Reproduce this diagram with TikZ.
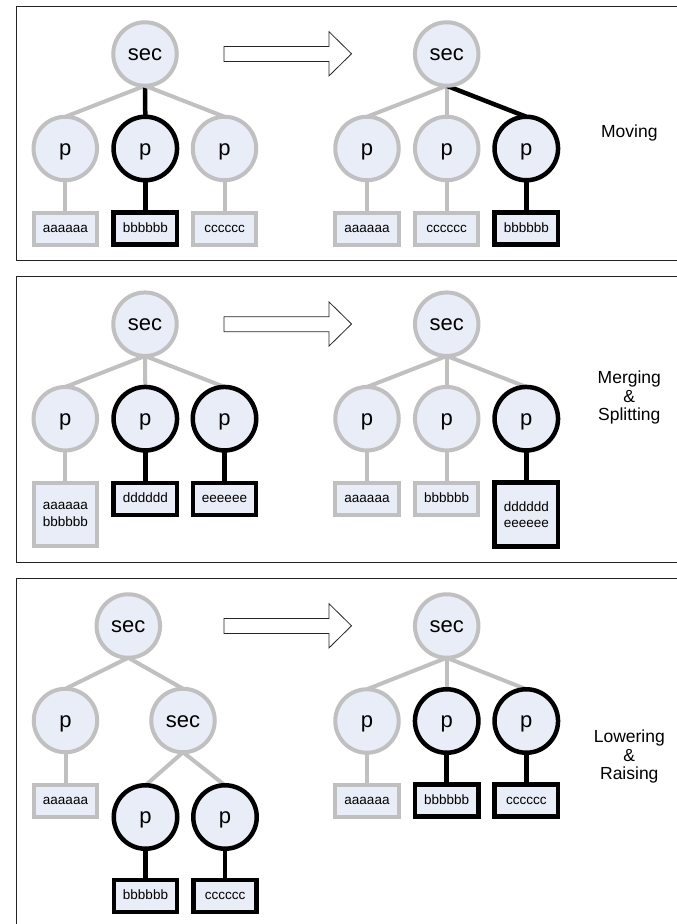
\documentclass[tikz,border=0pt]{standalone}
\usepackage{fontspec}
\setmainfont{Liberation Sans}
\usetikzlibrary{backgrounds}

\definecolor{nodefill}{RGB}{232,237,247}
\definecolor{dimline}{RGB}{192,192,192}
\definecolor{frameline}{RGB}{35,35,35}

\tikzset{
  pnode/.style={circle, draw=dimline, line width=4pt, fill=nodefill,
    minimum size=63.5pt, inner sep=0pt, outer sep=0pt,
    font=\fontsize{22}{24}\selectfont, text height=15.2pt, text depth=2.2pt},
  hot/.style={draw=black, line width=4.5pt},
  leafbox/.style={rectangle, draw=dimline, line width=4pt, fill=nodefill,
    minimum width=63.3pt, minimum height=32pt, inner sep=0pt, outer sep=0pt,
    font=\fontsize{13.5}{16.3}\selectfont, text height=9.5pt, text depth=2.7pt},
  tallbox/.style={minimum height=63.7pt, align=center, text height=, text depth=},
  link/.style={draw=dimline, line width=4pt},
  hotlink/.style={draw=black, line width=4.5pt},
  panelframe/.style={draw=frameline, line width=1pt},
  sidetext/.style={font=\fontsize{17.5}{18.5}\selectfont, align=center},
  arrowline/.style={draw=black!85, line width=0.8pt, line join=miter, fill=white},
  bigarrow/.pic={
    \path[arrowline] (224,46.5) -- (329,46.5) -- (329,31.7) -- (351.5,53.8)
      -- (329,75.9) -- (329,61.5) -- (224,61.5) -- cycle;
  },
}

\begin{document}
\begin{tikzpicture}[x=1pt, y=-1pt]
\clip (0,0) rectangle (677,924);
\useasboundingbox (0,0) rectangle (677,924);

% ---------------- Moving ----------------
\draw[panelframe] (16.7,6.3) rectangle (700,260.5);
\pic at (0,0) {bigarrow};
\node[pnode] (ma) at (145,54) {sec};
\node[pnode] (ma1) at (65.3,148.5) {p};
\node[pnode,hot] (ma2) at (145.3,148.5) {p};
\node[pnode] (ma3) at (224.5,148.5) {p};
\node[leafbox] (mal1) at (65.3,228.7) {aaaaaa};
\node[leafbox,hot] (mal2) at (145.3,228.7) {bbbbbb};
\node[leafbox] (mal3) at (224.5,228.7) {cccccc};

\node[pnode] (mb) at (446.7,54) {sec};
\node[pnode] (mb1) at (367,148.5) {p};
\node[pnode] (mb2) at (446.7,148.5) {p};
\node[pnode,hot] (mb3) at (526.3,148.5) {p};
\node[leafbox] (mbl1) at (367,228.7) {aaaaaa};
\node[leafbox] (mbl2) at (446.7,228.7) {cccccc};
\node[leafbox,hot] (mbl3) at (526.3,228.7) {bbbbbb};

\node[sidetext] (mlabel) at (629.3,133.3) {Moving};

\begin{scope}[on background layer]
  \draw[link] (ma.south) -- (ma1.north);
  \draw[hotlink] (ma.south) -- (ma2.north);
  \draw[link] (ma.south) -- (ma3.north);
  \draw[link] (ma1.south) -- (mal1.north);
  \draw[hotlink] (ma2.south) -- (mal2.north);
  \draw[link] (ma3.south) -- (mal3.north);
  \draw[link] (mb.south) -- (mb1.north);
  \draw[link] (mb.south) -- (mb2.north);
  \draw[hotlink] (mb.south) -- (mb3.north);
  \draw[link] (mb1.south) -- (mbl1.north);
  \draw[link] (mb2.south) -- (mbl2.north);
  \draw[hotlink] (mb3.south) -- (mbl3.north);
\end{scope}

% ---------------- Merging & Splitting ----------------
\begin{scope}[shift={(0,270.2)}]
\draw[panelframe] (16.7,6.1) rectangle (700,292.3);
\pic at (0,0) {bigarrow};
\node[pnode] (sa) at (145,54) {sec};
\node[pnode] (sa1) at (65.3,148.5) {p};
\node[pnode,hot] (sa2) at (145.3,148.5) {p};
\node[pnode,hot] (sa3) at (224.5,148.5) {p};
\node[leafbox,tallbox] (sal1) at (65.3,244.3) {aaaaaa\\bbbbbb};
\node[leafbox,hot] (sal2) at (145.3,228.7) {dddddd};
\node[leafbox,hot] (sal3) at (224.5,228.7) {eeeeee};

\node[pnode] (sb) at (446.7,54) {sec};
\node[pnode] (sb1) at (367,148.5) {p};
\node[pnode] (sb2) at (446.7,148.5) {p};
\node[pnode,hot] (sb3) at (526.3,148.5) {p};
\node[leafbox] (sbl1) at (367,228.7) {aaaaaa};
\node[leafbox] (sbl2) at (446.7,228.7) {bbbbbb};
\node[leafbox,hot,tallbox] (sbl3) at (526.3,244.3) {dddddd\\eeeeee};

\node[sidetext] (slabel) at (629.3,127.5) {Merging\\\&\\Splitting};

\begin{scope}[on background layer]
  \draw[link] (sa.south) -- (sa1.north);
  \draw[link] (sa.south) -- (sa2.north);
  \draw[link] (sa.south) -- (sa3.north);
  \draw[link] (sa1.south) -- (sal1.north);
  \draw[hotlink] (sa2.south) -- (sal2.north);
  \draw[hotlink] (sa3.south) -- (sal3.north);
  \draw[link] (sb.south) -- (sb1.north);
  \draw[link] (sb.south) -- (sb2.north);
  \draw[link] (sb.south) -- (sb3.north);
  \draw[link] (sb1.south) -- (sbl1.north);
  \draw[link] (sb2.south) -- (sbl2.north);
  \draw[hotlink] (sb3.south) -- (sbl3.north);
\end{scope}
\end{scope}

% ---------------- Lowering & Raising ----------------
\begin{scope}[shift={(0,572)}]
\draw[panelframe] (16.7,6.3) rectangle (700,400);
\pic at (0,0) {bigarrow};
\node[pnode] (la) at (128.3,54) {sec};
\node[pnode] (la1) at (65.5,148.5) {p};
\node[pnode] (la2) at (183,148.5) {sec};
\node[pnode,hot] (la21) at (145.5,245) {p};
\node[pnode,hot] (la22) at (225,245) {p};
\node[leafbox] (lal1) at (65.5,228.7) {aaaaaa};
\node[leafbox,hot] (lal21) at (145.5,324) {bbbbbb};
\node[leafbox,hot] (lal22) at (225,324) {cccccc};

\node[pnode] (lb) at (446.7,54) {sec};
\node[pnode] (lb1) at (367,149) {p};
\node[pnode,hot] (lb2) at (446.7,149) {p};
\node[pnode,hot] (lb3) at (526.3,149) {p};
\node[leafbox] (lbl1) at (367,228.7) {aaaaaa};
\node[leafbox,hot] (lbl2) at (446.7,228.7) {bbbbbb};
\node[leafbox,hot] (lbl3) at (526.3,228.7) {cccccc};

\node[sidetext] (llabel) at (629.3,184.7) {Lowering\\\&\\Raising};

\begin{scope}[on background layer]
  \draw[link] (la.south) -- (la1.north);
  \draw[link] (la.south) -- (la2.north);
  \draw[link] (la1.south) -- (lal1.north);
  \draw[link] (la2.south) -- (la21.north);
  \draw[link] (la2.south) -- (la22.north);
  \draw[hotlink] (la21.south) -- (lal21.north);
  \draw[hotlink] (la22.south) -- (lal22.north);
  \draw[link] (lb.south) -- (lb1.north);
  \draw[link] (lb.south) -- (lb2.north);
  \draw[link] (lb.south) -- (lb3.north);
  \draw[link] (lb1.south) -- (lbl1.north);
  \draw[hotlink] (lb2.south) -- (lbl2.north);
  \draw[hotlink] (lb3.south) -- (lbl3.north);
\end{scope}
\end{scope}
\end{tikzpicture}
\end{document}
